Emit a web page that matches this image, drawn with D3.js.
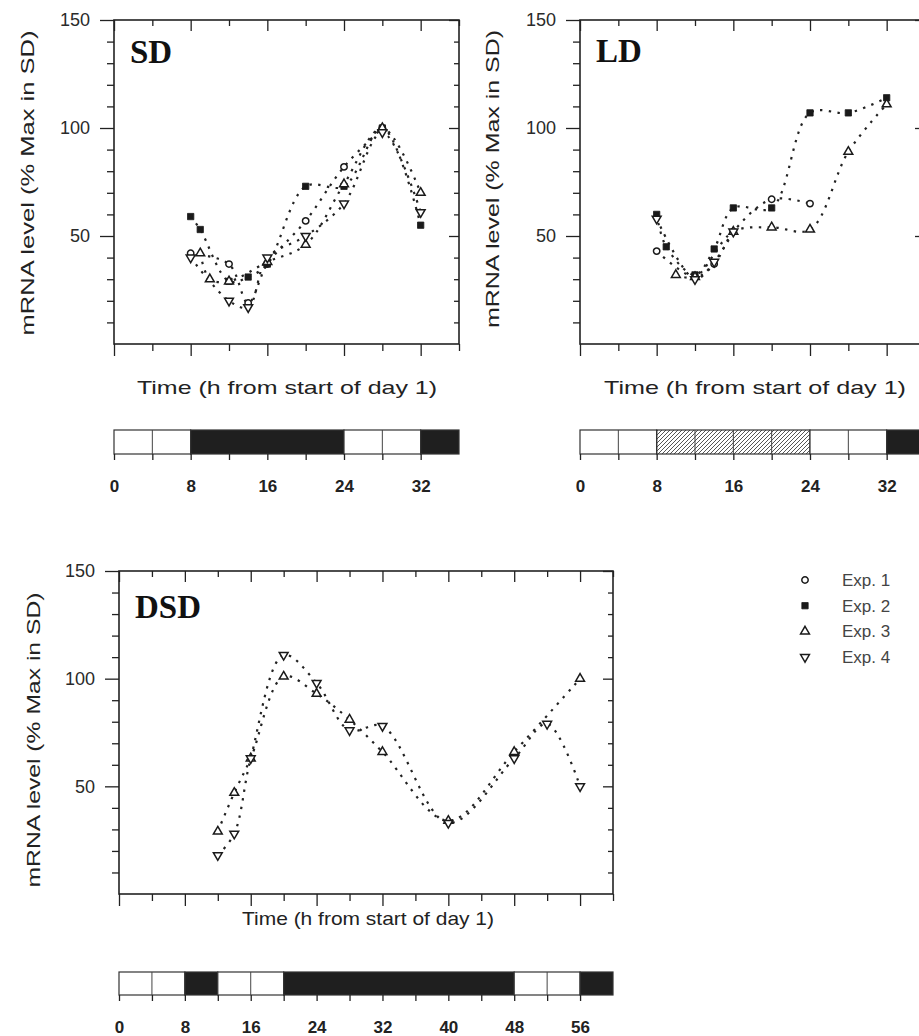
<!DOCTYPE html>
<head>
<title>mRNA level in SD, LD and DSD</title>
<meta charset="utf-8">
<style>
body { margin: 0; background: #fff; }
text { font-family: "Liberation Sans", Arial, sans-serif; fill: #1e1e1e; }
.axis line { stroke: #222; stroke-width: 1.3px; }
.axis text { font-size: 18px; fill: #2a2a2a; }
.bar-axis text { font-size: 17px; font-weight: bold; fill: #222; }
.frame { fill: none; stroke: #222; stroke-width: 1.6px; }
.curve { fill: none; stroke: #222; stroke-width: 2.2px; stroke-dasharray: 2.4 6.4; }
.panel-label { font-family: "Liberation Serif", "Times New Roman", serif; font-weight: bold; font-size: 33px; fill: #111; }
.title { font-size: 19px; fill: #222; }
.legend text { font-size: 17px; fill: #444; }
</style>
</head>
<body>
<svg width="919" height="1036"></svg>
<script src="https://d3js.org/d3.v7.min.js"></script>
<script type="text/javascript">
/* global d3 */
// [hour from start of day 1, mRNA level (% of max in SD)]
const sdExp1 = [[8, 42], [12, 37], [14, 19], [16, 37], [20, 57], [24, 82], [28, 100]];
const sdExp2 = [[8, 59], [9, 53], [12, 29], [14, 31], [16, 37], [20, 73], [24, 73], [28, 100], [32, 55]];
const sdExp3 = [[9, 42], [10, 30], [12, 29], [16, 38], [20, 46], [24, 74], [28, 100], [32, 70]];
const sdExp4 = [[8, 40], [12, 20], [14, 17], [16, 40], [20, 50], [24, 65], [28, 98], [32, 61]];

const ldExp1 = [[8, 43], [12, 31], [14, 37], [16, 52], [20, 67], [24, 65]];
const ldExp2 = [[8, 60], [9, 45], [12, 32], [14, 44], [16, 63], [20, 63], [24, 107], [28, 107], [32, 114]];
const ldExp3 = [[10, 32], [12, 31], [16, 52], [20, 54], [24, 53], [28, 89], [32, 111]];
const ldExp4 = [[8, 58], [12, 30], [14, 38], [16, 52]];

const dsdExp3 = [[12, 29], [14, 47], [16, 63], [20, 101], [24, 93], [28, 81], [32, 66], [40, 34], [48, 66], [56, 100]];
const dsdExp4 = [[12, 18], [14, 28], [16, 63], [20, 111], [24, 98], [28, 76], [32, 78], [40, 33], [48, 63], [52, 79], [56, 50]];

// light regime bars: [from h, to h, kind]
const sdPeriods = [[0, 8, "light"], [8, 24, "dark"], [24, 32, "light"], [32, 36, "dark"]];
const ldPeriods = [[0, 8, "light"], [8, 24, "dim"], [24, 32, "light"], [32, 36, "dark"]];
const dsdPeriods = [[0, 8, "light"], [8, 12, "dark"], [12, 20, "light"], [20, 48, "dark"], [48, 56, "light"], [56, 60, "dark"]];

const expNames = ["Exp. 1", "Exp. 2", "Exp. 3", "Exp. 4"];
const yMajorTicks = [50, 100, 150];
const xTitle = "Time (h from start of day 1)";
const yTitle = "mRNA level (% Max in SD)";

let svg = d3.select("svg");

svg.append("defs").append("pattern")
    .attr("id", "hatch")
    .attr("patternUnits", "userSpaceOnUse")
    .attr("width", 4).attr("height", 4)
  .append("path")
    .attr("d", "M0,4 L4,0 M-1,1 L1,-1 M3,5 L5,3")
    .attr("stroke", "#555").attr("stroke-width", 1);

const symbolTypes = [d3.symbolCircle, d3.symbolSquare, d3.symbolTriangle, d3.symbolTriangle];
const symbolSizes = [32, 40, 34, 34];

function marker(sel, k, x, y) {
  sel.attr("d", d3.symbol(symbolTypes[k], symbolSizes[k]))
      .attr("fill", k === 1 ? "#1a1a1a" : "#fff")
      .attr("stroke", "#1a1a1a")
      .attr("stroke-width", k === 1 ? 0.8 : 1.5)
      .attr("transform", d => "translate(" + x(d[0]) + "," + y(d[1]) + ")" + (k === 3 ? " rotate(180)" : ""));
}

function ticks(g, axisFn, scale, values, size, pos, labels, pad) {
  g.append("g")
      .attr("class", "axis")
      .attr("transform", pos)
      .call(axisFn(scale).tickValues(values).tickSize(size).tickPadding(pad || 3)
        .tickFormat(labels ? d3.format("d") : ""))
      .call(s => s.select(".domain").remove());
}

const panels = [
  {label: "SD", series: [[0, sdExp1], [1, sdExp2], [2, sdExp3], [3, sdExp4]], periods: sdPeriods, xMax: 36,
   left: 114, right: 459, top: 20, bottom: 344, barTop: 430, barBottom: 454,
   xTitleX: 287, xTitleY: 394, xTitleLen: 300, yTitleX: 27, yTitleY: 183, yTitleLen: 305, labelY: 63},
  {label: "LD", series: [[0, ldExp1], [1, ldExp2], [2, ldExp3], [3, ldExp4]], periods: ldPeriods, xMax: 36,
   left: 580, right: 925, top: 20, bottom: 344, barTop: 430, barBottom: 454,
   xTitleX: 755, xTitleY: 394, xTitleLen: 302, yTitleX: 492, yTitleY: 179, yTitleLen: 298, labelY: 62},
  {label: "DSD", series: [[2, dsdExp3], [3, dsdExp4]], periods: dsdPeriods, xMax: 60,
   left: 119, right: 613, top: 571, bottom: 894, barTop: 972, barBottom: 995,
   xTitleX: 368, xTitleY: 925, xTitleLen: 252, yTitleX: 33, yTitleY: 740, yTitleLen: 295, labelY: 618}
];

panels.forEach(p => {
  let g = svg.append("g");
  let x = d3.scaleLinear().domain([0, p.xMax]).range([p.left, p.right]);
  let y = d3.scaleLinear().domain([0, 150]).range([p.bottom, p.top]);

  let xMajor = d3.range(0, p.xMax + 1, 8);
  let xMinor = d3.range(4, p.xMax + 1, 8);
  let yMinor = d3.range(10, 150, 10).filter(v => v % 50 !== 0);

  // box and ticks
  g.append("rect").attr("class", "frame")
      .attr("x", p.left).attr("y", p.top)
      .attr("width", p.right - p.left).attr("height", p.bottom - p.top);

  ticks(g, d3.axisLeft, y, yMajorTicks, 14, "translate(" + p.left + ",0)", true, 10);
  ticks(g, d3.axisLeft, y, yMinor, 7, "translate(" + p.left + ",0)", false);
  ticks(g, d3.axisLeft, y, yMajorTicks, 10, "translate(" + p.right + ",0)", false);
  ticks(g, d3.axisLeft, y, yMinor, 5, "translate(" + p.right + ",0)", false);
  ticks(g, d3.axisBottom, x, xMajor, 12, "translate(0," + p.bottom + ")", false);
  ticks(g, d3.axisBottom, x, xMinor, 7, "translate(0," + p.bottom + ")", false);
  ticks(g, d3.axisBottom, x, xMajor, 11, "translate(0," + p.top + ")", false);
  ticks(g, d3.axisBottom, x, xMinor, 6, "translate(0," + p.top + ")", false);

  // series
  let line = d3.line()
      .curve(d3.curveCatmullRom.alpha(0.5))
      .x(d => x(d[0]))
      .y(d => y(d[1]));

  p.series.forEach(s => {
    g.append("path").datum(s[1]).attr("class", "curve").attr("d", line);
  });
  p.series.forEach(s => {
    g.append("g").selectAll("path")
      .data(s[1])
      .join("path")
      .call(marker, s[0], x, y);
  });

  g.append("text").attr("class", "panel-label")
      .attr("x", p.left + 16).attr("y", p.labelY)
      .text(p.label);

  // axis titles
  g.append("text").attr("class", "title")
      .attr("x", p.xTitleX).attr("y", p.xTitleY)
      .attr("text-anchor", "middle")
      .attr("textLength", p.xTitleLen).attr("lengthAdjust", "spacingAndGlyphs")
      .text(xTitle);

  g.append("text").attr("class", "title")
      .attr("transform", "translate(" + p.yTitleX + "," + p.yTitleY + ") rotate(-90)")
      .attr("dy", "0.35em")
      .attr("text-anchor", "middle")
      .attr("textLength", p.yTitleLen).attr("lengthAdjust", "spacingAndGlyphs")
      .text(yTitle);

  // light regime bar
  let bar = g.append("g");
  bar.selectAll("rect")
    .data(p.periods)
    .join("rect")
      .attr("x", d => x(d[0]))
      .attr("y", p.barTop)
      .attr("width", d => x(d[1]) - x(d[0]))
      .attr("height", p.barBottom - p.barTop)
      .attr("fill", d => d[2] === "dark" ? "#1f1f1f" : d[2] === "dim" ? "url(#hatch)" : "#fff")
      .attr("stroke", "#333")
      .attr("stroke-width", 1.2);

  // 4 h divisions inside the light and dim parts
  let inner = d3.range(4, p.xMax, 4)
      .filter(h => p.periods.some(d => d[2] !== "dark" && h > d[0] && h < d[1]));
  bar.selectAll("line")
    .data(inner)
    .join("line")
      .attr("x1", d => x(d)).attr("x2", d => x(d))
      .attr("y1", p.barTop).attr("y2", p.barBottom)
      .attr("stroke", "#444").attr("stroke-width", 1);

  g.append("g")
      .attr("class", "axis bar-axis")
      .attr("transform", "translate(0," + p.barBottom + ")")
      .call(d3.axisBottom(x).tickValues(d3.range(0, p.xMax, 4)).tickSize(6).tickPadding(20)
        .tickFormat(d => d % 8 === 0 ? d : ""))
      .call(s => s.select(".domain").remove());
});

// legend
let legend = svg.append("g").attr("class", "legend");
expNames.forEach((name, k) => {
  let ly = 580 + k * 25.7;
  legend.append("path").datum([0, 0])
      .call(marker, k, () => 805, () => ly);
  legend.append("text")
      .attr("x", 842).attr("y", ly + 6)
      .text(name);
});
</script>
</body>
